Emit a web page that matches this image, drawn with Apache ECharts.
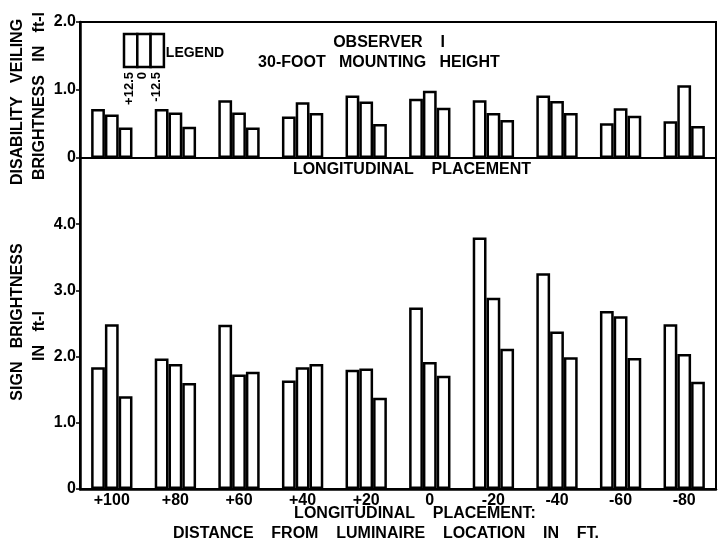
<!DOCTYPE html>
<html>
<head>
<meta charset="utf-8">
<script src="https://cdn.jsdelivr.net/npm/echarts@6/dist/echarts.min.js"></script>
<style>
  html, body { margin: 0; padding: 0; background: #fff; }
  #chart { width: 719px; height: 548px; }
</style>
</head>
<body>
<div id="chart"></div>
<script>
// Longitudinal placement of the sign relative to the luminaire (ft)
const placements = ['+100', '+80', '+60', '+40', '+20', '0', '-20', '-40', '-60', '-80'];
// Lateral offsets shown by the three bars of each group
const offsets = ['+12.5', '0', '-12.5'];

// Disability veiling brightness, ft-L (upper panel)
const veilPlus = [0.72, 0.72, 0.85, 0.61, 0.92, 0.87, 0.85, 0.92, 0.51, 0.54];
const veilZero = [0.64, 0.67, 0.67, 0.82, 0.83, 0.99, 0.66, 0.84, 0.73, 1.07];
const veilMinus = [0.45, 0.46, 0.45, 0.66, 0.50, 0.74, 0.56, 0.66, 0.62, 0.47];

// Sign brightness, ft-L (lower panel)
const signPlus = [1.84, 1.97, 2.48, 1.64, 1.80, 2.74, 3.80, 3.26, 2.69, 2.49];
const signZero = [2.49, 1.89, 1.73, 1.84, 1.82, 1.92, 2.89, 2.38, 2.61, 2.04];
const signMinus = [1.40, 1.60, 1.77, 1.89, 1.38, 1.71, 2.12, 1.99, 1.98, 1.62];

// Axis ranges and tick steps
const veilMax = 2, signMax = 5, tickStep = 1;

const FONT = '"Liberation Sans", Arial, sans-serif';
const INK = '#000';

const chart = echarts.init(document.getElementById('chart'), null, { renderer: 'canvas' });

const barStyle = { color: '#fff', borderColor: INK, borderWidth: 2.5 };

function barSeries(data, name, axis) {
  return {
    type: 'bar', name: name, data: data,
    xAxisIndex: axis, yAxisIndex: axis,
    barGap: '0%', barCategoryGap: '35%',
    itemStyle: barStyle,
    animation: false, silent: true
  };
}

const axisLabelStyle = { color: INK, fontFamily: FONT, fontWeight: 'bold', fontSize: 16, margin: 4 };

function txt(text, x, y, size, opts) {
  return Object.assign({
    type: 'text', x: x, y: y, silent: true,
    style: Object.assign({
      text: text, fill: INK, font: 'bold ' + size + 'px ' + FONT,
      textAlign: 'center', textVerticalAlign: 'middle'
    }, (opts && opts.style) || {})
  }, opts && opts.rotation ? { rotation: opts.rotation } : {});
}

const UP = Math.PI / 2;

const option = {
  backgroundColor: '#fff',
  animation: false,
  grid: [
    { left: 80, right: 3, top: 22, height: 136, show: true, borderColor: INK, borderWidth: 2, backgroundColor: 'transparent' },
    { left: 80, right: 3, top: 158, height: 331, show: true, borderColor: INK, borderWidth: 2, backgroundColor: 'transparent' }
  ],
  xAxis: [
    { type: 'category', gridIndex: 0, data: placements,
      axisLine: { show: true, lineStyle: { color: INK, width: 2 } },
      axisTick: { show: false }, axisLabel: { show: false } },
    { type: 'category', gridIndex: 1, data: placements,
      axisLine: { show: true, lineStyle: { color: INK, width: 2.5 } },
      axisTick: { show: false },
      axisLabel: { color: INK, fontFamily: FONT, fontWeight: 'bold', fontSize: 16, margin: 4 } }
  ],
  yAxis: [
    { type: 'value', gridIndex: 0, min: 0, max: veilMax, interval: tickStep,
      splitLine: { show: false },
      axisLine: { show: true, lineStyle: { color: INK, width: 2.5 } },
      axisTick: { show: true, length: 4, lineStyle: { color: INK, width: 1.5 } },
      axisLabel: Object.assign({}, axisLabelStyle, {
        formatter: function (v) { return v === 0 ? '0' : v.toFixed(1); } }) },
    { type: 'value', gridIndex: 1, min: 0, max: signMax, interval: tickStep,
      splitLine: { show: false },
      axisLine: { show: true, lineStyle: { color: INK, width: 2.5 } },
      axisTick: { show: true, length: 4, lineStyle: { color: INK, width: 1.5 } },
      axisLabel: Object.assign({}, axisLabelStyle, {
        formatter: function (v) { return v === 0 ? '0' : (v === signMax ? '' : v.toFixed(1)); } }) }
  ],
  series: [
    barSeries(veilPlus, offsets[0], 0),
    barSeries(veilZero, offsets[1], 0),
    barSeries(veilMinus, offsets[2], 0),
    barSeries(signPlus, offsets[0], 1),
    barSeries(signZero, offsets[1], 1),
    barSeries(signMinus, offsets[2], 1)
  ],
  graphic: [
    // headings inside the upper panel
    txt('OBSERVER    I', 389, 43, 16),
    txt('30-FOOT   MOUNTING   HEIGHT', 379, 63, 16),
    txt('LONGITUDINAL    PLACEMENT', 412, 170, 16),
    // x-axis title
    txt('LONGITUDINAL    PLACEMENT:', 415, 514, 16),
    txt('DISTANCE    FROM    LUMINAIRE    LOCATION    IN    FT.', 386, 534, 16),
    // y-axis titles
    txt('DISABILITY   VEILING', 18, 102, 16, { rotation: UP }),
    txt('BRIGHTNESS   IN   ft-l', 40, 96, 16, { rotation: UP }),
    txt('SIGN   BRIGHTNESS', 18, 322, 16, { rotation: UP }),
    txt('IN   ft-l', 40, 336, 16, { rotation: UP }),
    // legend key: three adjacent open bars
    { type: 'rect', silent: true, shape: { x: 124, y: 34, width: 13.3, height: 33 },
      style: { fill: '#fff', stroke: INK, lineWidth: 2.5 } },
    { type: 'rect', silent: true, shape: { x: 137.3, y: 34, width: 13.3, height: 33 },
      style: { fill: '#fff', stroke: INK, lineWidth: 2.5 } },
    { type: 'rect', silent: true, shape: { x: 150.6, y: 34, width: 13.3, height: 33 },
      style: { fill: '#fff', stroke: INK, lineWidth: 2.5 } },
    txt('LEGEND', 195, 53, 14),
    txt(offsets[0], 129, 72, 13, { rotation: UP, style: { textAlign: 'right' } }),
    txt(offsets[1], 142, 72, 13, { rotation: UP, style: { textAlign: 'right' } }),
    txt(offsets[2], 156, 72, 13, { rotation: UP, style: { textAlign: 'right' } })
  ]
};

chart.setOption(option);
</script>
</body>
</html>
